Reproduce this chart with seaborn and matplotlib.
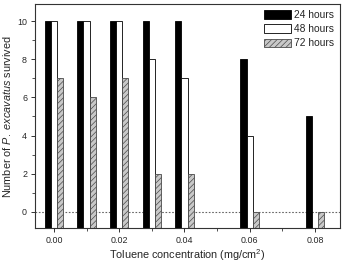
import numpy as np
import pandas as pd
import matplotlib
matplotlib.use('Agg')
import matplotlib.pyplot as plt
from matplotlib.patches import Patch
from matplotlib.ticker import MultipleLocator, FormatStrFormatter
import seaborn as sns

sns.set_style('ticks')
plt.rcParams['font.family'] = ['Liberation Sans', 'DejaVu Sans']
plt.rcParams['mathtext.fontset'] = 'custom'
plt.rcParams['mathtext.rm'] = 'Liberation Sans'
plt.rcParams['mathtext.it'] = 'Liberation Sans:italic'
plt.rcParams['hatch.linewidth'] = 0.5

# data
conc = [0.00, 0.01, 0.02, 0.03, 0.04, 0.06, 0.08]
h24 = [10, 10, 10, 10, 10, 8, 5]
h48 = [10, 10, 10, 8, 7, 4, np.nan]
h72 = [7, 6, 7, 2, 2, 0, 0]
labels = ['24 hours', '48 hours', '72 hours']

df = pd.DataFrame({
    'conc': conc * 3,
    'n': h24 + h48 + h72,
    'time': [labels[0]] * 7 + [labels[1]] * 7 + [labels[2]] * 7,
})

colors = ['black', 'white', '#c8c8c8']
edges = ['black', 'black', '#4a4a4a']
hatches = [None, None, '//////']

fig = plt.figure(figsize=(3.42, 2.62), dpi=100)
ax = fig.add_axes([0.1015, 0.1286, 0.8927, 0.8561])

sns.barplot(data=df, x='conc', y='n', hue='time', hue_order=labels,
            palette=colors, native_scale=True, width=0.57, errorbar=None,
            linewidth=0.6, ax=ax, legend=False)

# bars start below the visible bottom, styled per series
for c, ec, ht in zip(ax.containers, edges, hatches):
    for p in c:
        h = p.get_height()
        p.set_y(-1)
        p.set_height(h + 1)
        p.set_edgecolor(ec)
        if ht:
            p.set_hatch(ht)

ax.axhline(0, ls=(0, (1.5, 1.5)), color='#666666', lw=0.8, zorder=0)

ax.set_xlim(-0.0059, 0.0877)
ax.set_ylim(-0.87, 10.9)
ax.xaxis.set_major_locator(MultipleLocator(0.02))
ax.xaxis.set_minor_locator(MultipleLocator(0.01))
ax.xaxis.set_major_formatter(FormatStrFormatter('%.2f'))
ax.yaxis.set_major_locator(MultipleLocator(2))
ax.yaxis.set_minor_locator(MultipleLocator(1))
ax.tick_params(which='major', length=3, width=0.7, labelsize=6.4, pad=2.5, color='#333333')
ax.tick_params(which='minor', length=2, width=0.6, color='#333333')
for s in ax.spines.values():
    s.set_visible(True)
    s.set_linewidth(0.8)
    s.set_color('#333333')

ax.set_ylabel(r'Number of $\it{P.\ excavatus}$ survived', fontsize=7.8, labelpad=3)
ax.set_xlabel(r'Toluene concentration (mg/cm$^2$)', fontsize=7.8, labelpad=1.5)

handles = [Patch(facecolor=fc, edgecolor=ec, hatch=ht, linewidth=0.6)
           for fc, ec, ht in zip(colors, edges, hatches)]
ax.legend(handles, labels, loc='upper right', frameon=False, fontsize=7.4,
          handlelength=2.6, handleheight=0.9, handletextpad=0.3,
          labelspacing=0.4, borderaxespad=0.4, borderpad=0.2)

fig.savefig('out.png', dpi=100)
